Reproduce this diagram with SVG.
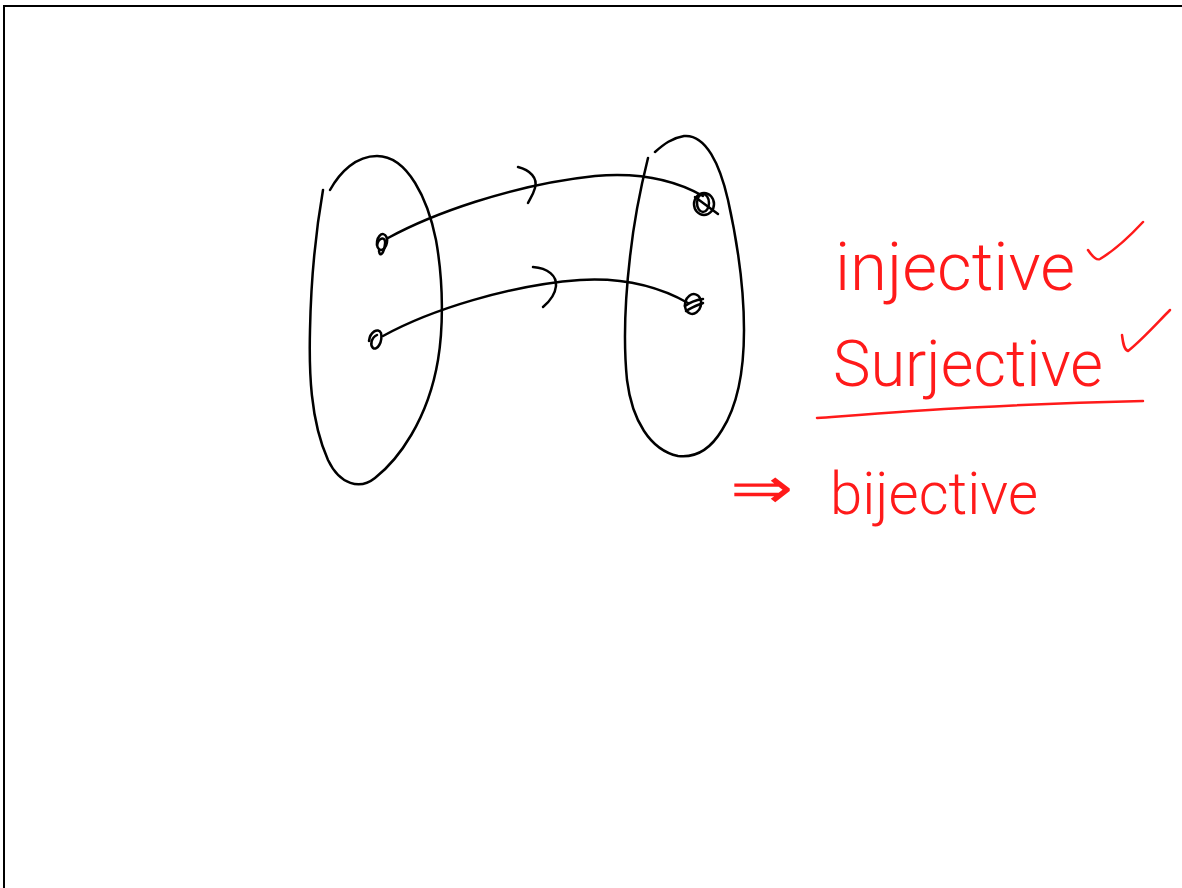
<svg xmlns="http://www.w3.org/2000/svg" width="1182" height="888" viewBox="0 0 1182 888">
<style>
.ink{fill:none;stroke:#000;stroke-width:2.5;stroke-linecap:round;stroke-linejoin:round}
.red{fill:none;stroke:#ff1a1a;stroke-width:2.5;stroke-linecap:round;stroke-linejoin:round}
.hw{fill:#ff1a1a;font-family:"Roboto","Liberation Sans",sans-serif;font-weight:300}
</style>
<rect width="1182" height="888" fill="#fff"/>
<path d="M4,888 V6 H1182" fill="none" stroke="#000" stroke-width="2"/>
<g id="set-domain">
<path class="ink" d="M330,190 C340,172 356,156 377,156 C408,156 428,200 436,240 C444,285 443,330 438,360 C428,420 398,460 375,478 C360,490 340,485 328,460 C310,420 309,370 310,330 C311,280 316,230 323,190"/>
</g>
<g id="set-codomain">
<path class="ink" d="M655,152 C664,144 672,138 684,136 C706,134 720,165 728,200 C738,245 744,290 744,330 C744,370 738,405 722,430 C710,450 695,458 678,456 C650,450 632,420 627,380 C623,340 625,300 630,257 C634,220 640,190 648,158"/>
</g>
<g id="elem-a1"><ellipse class="ink" cx="382" cy="242" rx="5" ry="8" transform="rotate(10 382 242)"/><path class="ink" d="M377,245 C379,237 386,236 385,244 C384,253 380,258 379,251"/></g>
<g id="elem-a2"><path class="ink" d="M369,341 C370,332 378,327 381,333 C383,342 377,351 373,348 C370,345 371,338 377,335"/></g>
<g id="elem-b1"><ellipse class="ink" cx="704" cy="204" rx="10" ry="11"/><ellipse class="ink" cx="703" cy="203" rx="6" ry="9"/><path class="ink" d="M695,197 L718,214"/></g>
<g id="elem-b2"><ellipse class="ink" cx="693" cy="304" rx="8" ry="10" transform="rotate(15 693 304)"/><path class="ink" d="M685,306 C690,302 696,300 703,299"/><path class="ink" d="M686,311 C692,307 698,305 703,303"/></g>
<g id="connectors">
<path class="ink" d="M388,238 C430,215 510,185 595,176 C640,172 675,180 703,196"/>
<path class="ink" d="M518,167 C530,170 538,178 535,188 C533,195 530,199 528,203"/>
<path class="ink" d="M383,336 C430,310 510,285 580,280 C630,277 665,290 688,303"/>
<path class="ink" d="M533,267 C548,268 557,276 556,286 C555,296 549,302 543,307"/>
</g>
<g id="notes">
<text class="hw" x="835" y="290" font-size="66" textLength="240" lengthAdjust="spacingAndGlyphs">injective</text>
<path class="red" d="M1088,250 C1092,256 1096,261 1100,259 C1115,250 1130,236 1143,222"/>
<text class="hw" x="833" y="386" font-size="64" textLength="270" lengthAdjust="spacingAndGlyphs">Surjective</text>
<path class="red" d="M1122,335 C1123,343 1124,350 1128,351 C1142,340 1158,322 1170,310"/>
<path class="red" d="M817,418 C900,412 1000,404 1143,401"/>
<text class="hw" x="730" y="508" font-size="58" textLength="64" lengthAdjust="spacingAndGlyphs">⇒</text>
<text class="hw" x="830" y="514" font-size="60" textLength="208" lengthAdjust="spacingAndGlyphs">bijective</text>
</g>
</svg>
